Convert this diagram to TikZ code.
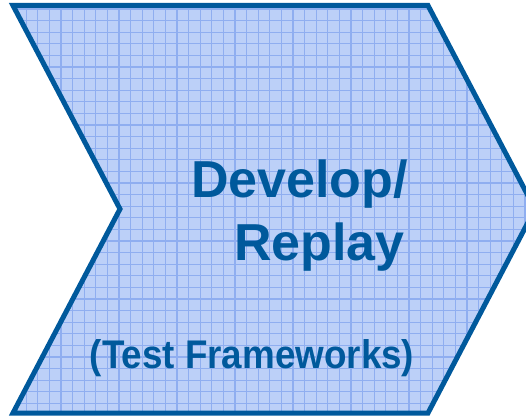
\documentclass[tikz,border=0pt]{standalone}
\usepackage{fontspec}
\setmainfont{Liberation Sans}
\definecolor{edge}{HTML}{00599C}
\definecolor{bgfill}{HTML}{BCD0F8}
\definecolor{gridc}{HTML}{8FAEF0}
\tikzset{
  chevron/.style={draw=edge, line width=5pt, line join=miter},
  title/.style={text=edge, font=\fontsize{52}{56}\selectfont\bfseries, inner sep=0pt},
  subtitle/.style={text=edge, font=\fontsize{40}{44}\selectfont\bfseries, inner sep=0pt, xscale=0.92}
}
\begin{document}
\begin{tikzpicture}[x=1pt,y=1pt]
\useasboundingbox (0,0) rectangle (526,416);
\coordinate (tl) at (13,410.5);
\coordinate (tr) at (428,410.5);
\coordinate (tip) at (535,207);
\coordinate (br) at (428,3);
\coordinate (bl) at (13,3);
\coordinate (notch) at (120,207);
\begin{scope}
  \clip (tl) -- (tr) -- (tip) -- (br) -- (bl) -- (notch) -- cycle;
  \fill[bgfill] (0,0) rectangle (540,416);
  \foreach \i in {0,...,47} {
    \draw[gridc, line width=1.1pt] (3+\i*11.6,0) -- (3+\i*11.6,416);
  }
  \foreach \i in {0,...,36} {
    \draw[gridc, line width=1.1pt] (0,1+\i*11.6) -- (540,1+\i*11.6);
  }
\end{scope}
\draw[chevron] (tl) -- (tr) -- (tip) -- (br) -- (bl) -- (notch) -- cycle;
\node[title, anchor=base east] (dev) at (408,219) {Develop/};
\node[title, anchor=base east] (rep) at (405,156) {Replay};
\node[subtitle, anchor=base] (tf) at (252,48) {(Test Frameworks)};
\end{tikzpicture}
\end{document}
